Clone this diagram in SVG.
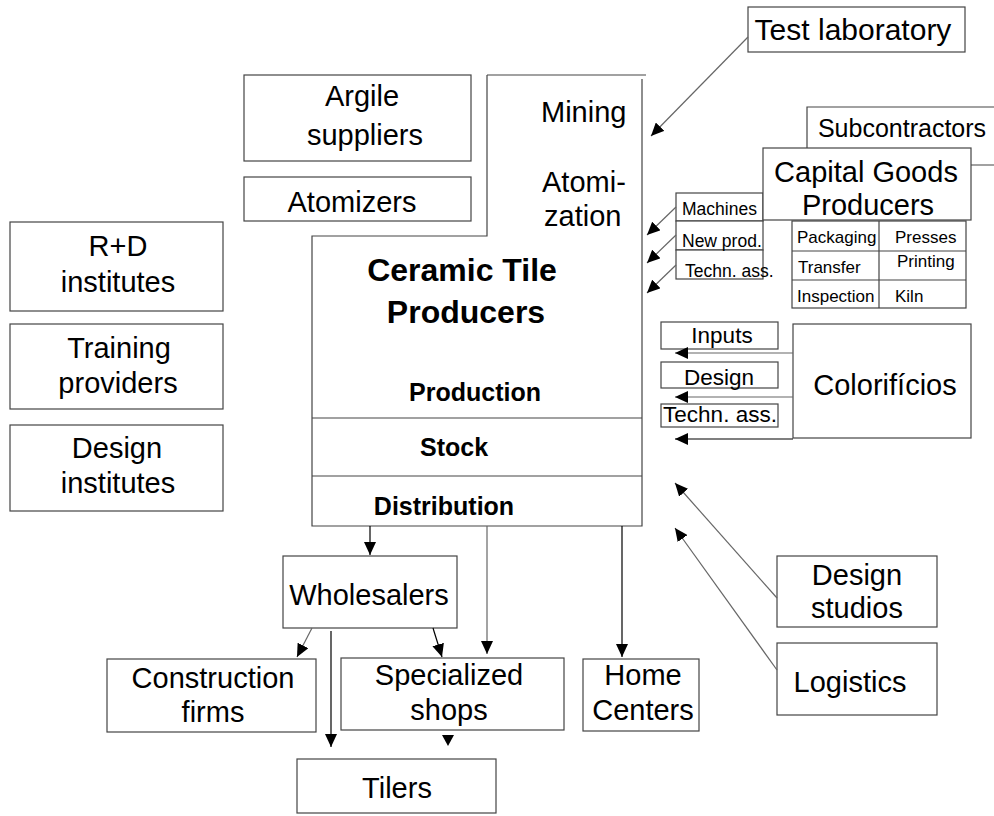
<svg xmlns="http://www.w3.org/2000/svg" width="994" height="816" viewBox="0 0 994 816">
<defs>
<style>
.box{fill:#fff;stroke:#444;stroke-width:1.2}
.ln{fill:none;stroke:#444;stroke-width:1.2}
.t{font-family:"Liberation Sans",Arial,sans-serif;font-size:29px;fill:#000;text-anchor:middle}
.ts{font-family:"Liberation Sans",Arial,sans-serif;font-size:17.5px;fill:#000}
.tm{font-family:"Liberation Sans",Arial,sans-serif;font-size:22.5px;fill:#000;text-anchor:middle}
.tb{font-family:"Liberation Sans",Arial,sans-serif;font-weight:bold;fill:#000;text-anchor:middle}
.c{fill:none;stroke:#000;stroke-width:1.2}
.cg{fill:none;stroke:#666;stroke-width:1.2}
</style>
<marker id="ah" markerUnits="userSpaceOnUse" markerWidth="14" markerHeight="12" refX="13" refY="6" orient="auto">
<path d="M0,0 L13,6 L0,12 z" fill="#000"/>
</marker>
</defs>
<rect width="994" height="816" fill="#fff"/>

<g id="test-laboratory">
<rect class="box" x="748" y="7" width="217" height="45"/>
<text class="t" x="853" y="40" style="font-size:30px">Test laboratory</text>
</g>

<g id="subcontractors">
<path class="box" d="M994,107 H807 V165 H994"/>
<text class="t" x="902" y="137" style="font-size:25px">Subcontractors</text>
</g>

<g id="services-capital">
<rect class="box" x="676" y="193" width="87" height="28"/>
<rect class="box" x="676" y="221" width="87" height="29"/>
<rect class="box" x="676" y="250" width="87" height="29"/>
<text class="ts" x="682" y="215">Machines</text>
<text class="ts" x="682" y="247">New prod.</text>
<text class="ts" x="685" y="277">Techn. ass.</text>
</g>

<g id="capital-goods">
<rect class="box" x="763" y="148" width="208" height="72"/>
<text class="t" x="866" y="182">Capital Goods</text>
<text class="t" x="868" y="215">Producers</text>
</g>

<g id="capital-goods-table">
<rect class="box" x="792" y="221" width="174" height="87"/>
<path class="ln" d="M879,221 V308 M792,251 H966 M792,280 H966"/>
<text class="ts" x="797" y="243" style="font-size:17px">Packaging</text>
<text class="ts" x="895" y="243" style="font-size:17px">Presses</text>
<text class="ts" x="798" y="273" style="font-size:17px">Transfer</text>
<text class="ts" x="897" y="267" style="font-size:17px">Printing</text>
<text class="ts" x="797" y="302" style="font-size:17px">Inspection</text>
<text class="ts" x="895" y="302" style="font-size:17px">Kiln</text>
</g>

<g id="argile-suppliers">
<rect class="box" x="244" y="75" width="227" height="86"/>
<text class="t" x="362" y="106">Argile</text>
<text class="t" x="365" y="145">suppliers</text>
</g>

<g id="atomizers">
<rect class="box" x="244" y="177" width="227" height="44"/>
<text class="t" x="352" y="212">Atomizers</text>
</g>

<g id="rd-institutes">
<rect class="box" x="10" y="222" width="213" height="89"/>
<text class="t" x="118" y="256">R+D</text>
<text class="t" x="118" y="292">institutes</text>
</g>

<g id="training-providers">
<rect class="box" x="10" y="324" width="213" height="85"/>
<text class="t" x="119" y="358">Training</text>
<text class="t" x="118" y="393">providers</text>
</g>

<g id="design-institutes">
<rect class="box" x="10" y="425" width="213" height="86"/>
<text class="t" x="117" y="458">Design</text>
<text class="t" x="118" y="493">institutes</text>
</g>

<g id="ceramic-tile-producers">
<path class="box" d="M642,79 V526 H312 V236 H487 V75"/>
<path class="ln" d="M487,75 H646 M312,418 H642 M312,476 H642"/>
<text class="t" x="541" y="122" style="text-anchor:start">Mining</text>
<text class="t" x="542" y="192" style="text-anchor:start">Atomi-</text>
<text class="t" x="544" y="226" style="text-anchor:start">zation</text>
<text class="tb" x="462" y="281" style="font-size:32px">Ceramic Tile</text>
<text class="tb" x="466" y="323" style="font-size:32px">Producers</text>
<text class="tb" x="475" y="401" style="font-size:25px">Production</text>
<text class="tb" x="454" y="456" style="font-size:25px">Stock</text>
<text class="tb" x="444" y="515" style="font-size:25px">Distribution</text>
</g>

<g id="colorificios-services">
<rect class="box" x="661" y="322" width="117" height="27"/>
<rect class="box" x="661" y="362" width="117" height="26"/>
<rect class="box" x="661" y="404" width="117" height="23"/>
<text class="tm" x="722" y="343">Inputs</text>
<text class="tm" x="719" y="385">Design</text>
<text class="tm" x="720" y="422">Techn. ass.</text>
</g>

<g id="colorificios">
<rect class="box" x="793" y="324" width="178" height="114"/>
<text class="t" x="885" y="395">Colorifícios</text>
</g>

<g id="design-studios">
<rect class="box" x="777" y="556" width="160" height="71"/>
<text class="t" x="857" y="585">Design</text>
<text class="t" x="857" y="618">studios</text>
</g>

<g id="logistics">
<rect class="box" x="777" y="643" width="160" height="72"/>
<text class="t" x="850" y="692">Logistics</text>
</g>

<g id="wholesalers">
<rect class="box" x="283" y="556" width="174" height="72"/>
<text class="t" x="369" y="605">Wholesalers</text>
</g>

<g id="construction-firms">
<rect class="box" x="107" y="659" width="209" height="73"/>
<text class="t" x="213" y="688">Construction</text>
<text class="t" x="213" y="722">firms</text>
</g>

<g id="specialized-shops">
<rect class="box" x="341" y="658" width="223" height="72"/>
<text class="t" x="449" y="685">Specialized</text>
<text class="t" x="449" y="720">shops</text>
</g>

<g id="home-centers">
<rect class="box" x="583" y="659" width="116" height="72"/>
<text class="t" x="643" y="685">Home</text>
<text class="t" x="643" y="720">Centers</text>
</g>

<g id="tilers">
<rect class="box" x="297" y="759" width="199" height="54"/>
<text class="t" x="397" y="798">Tilers</text>
</g>

<g id="connectors">
<path class="cg" d="M748,37 L651,136" marker-end="url(#ah)"/>
<path class="cg" d="M676,207 L647,235" marker-end="url(#ah)"/>
<path class="cg" d="M676,235 L647,263" marker-end="url(#ah)"/>
<path class="cg" d="M676,265 L647,293" marker-end="url(#ah)"/>
<path class="cg" d="M793,353 L675,353" marker-end="url(#ah)"/>
<path class="cg" d="M793,397 L675,397" marker-end="url(#ah)"/>
<path class="c" d="M793,439 L675,439" marker-end="url(#ah)"/>
<path class="cg" d="M777,598 L675,483" marker-end="url(#ah)"/>
<path class="cg" d="M777,670 L675,528" marker-end="url(#ah)"/>
<path class="c" d="M370,526 V555" marker-end="url(#ah)"/>
<path class="cg" d="M487,526 V654" marker-end="url(#ah)"/>
<path class="c" d="M622,526 V657" marker-end="url(#ah)"/>
<path class="cg" d="M312,628 L297,657" marker-end="url(#ah)"/>
<path class="c" d="M433,628 L442,657" marker-end="url(#ah)"/>
<path class="c" d="M331,631 V747" marker-end="url(#ah)"/>
<path d="M442,735 H454 L448,746 z" fill="#000"/>
</g>
</svg>
